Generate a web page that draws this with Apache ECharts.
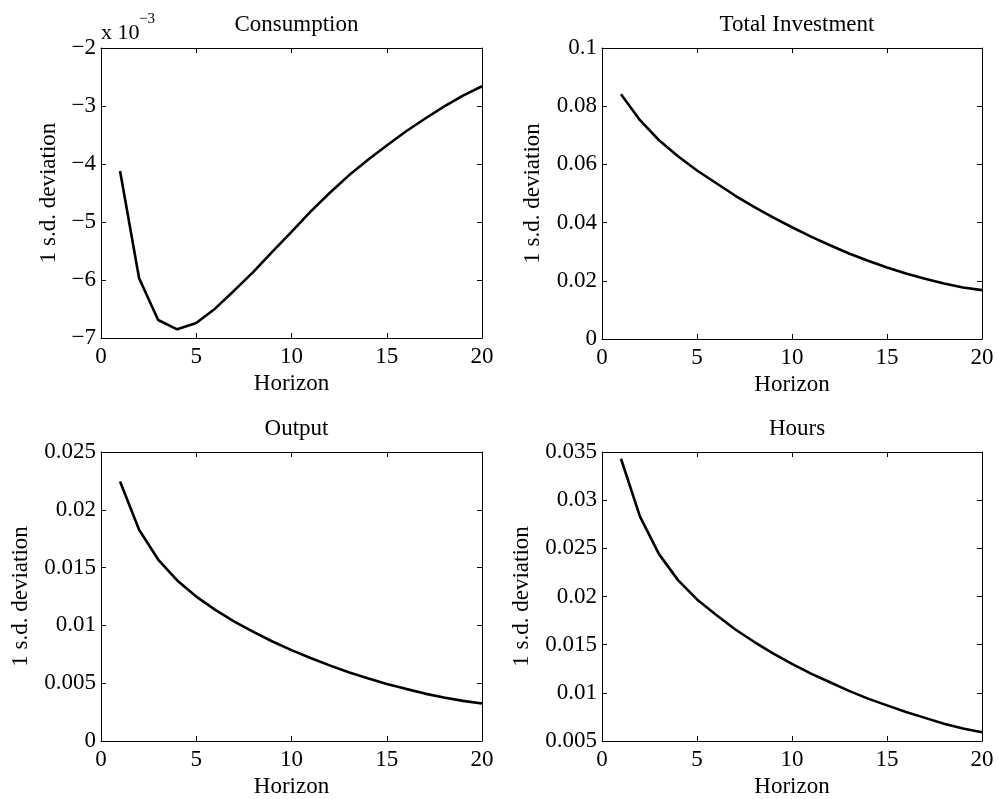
<!DOCTYPE html>
<html>
<head>
<meta charset="utf-8">
<script src="https://cdn.jsdelivr.net/npm/echarts@6/dist/echarts.min.js"></script>
<style>
  html, body { margin: 0; padding: 0; background: #fff; }
  #chartDiv { width: 998px; height: 799px; }
</style>
</head>
<body>
<div id="chartDiv"></div>
<script>
// Impulse responses, horizon 1..20
const horizon = [1, 2, 3, 4, 5, 6, 7, 8, 9, 10, 11, 12, 13, 14, 15, 16, 17, 18, 19, 20];

// Consumption, in units of 10^-3 (as shown on the axis)
const consumption = [-4.12, -5.97, -6.69, -6.85, -6.74, -6.49, -6.18, -5.86, -5.51, -5.17,
    -4.82, -4.50, -4.20, -3.93, -3.68, -3.44, -3.22, -3.01, -2.82, -2.66];

const investment = [0.0841, 0.0752, 0.0683, 0.0628, 0.0579, 0.0536, 0.0493, 0.0454, 0.0418, 0.0384,
    0.0352, 0.0322, 0.0294, 0.0269, 0.0246, 0.0225, 0.0207, 0.0191, 0.0177, 0.0168];

const output = [0.02245, 0.01828, 0.0157, 0.01389, 0.01249, 0.01134, 0.01033, 0.00944, 0.00861, 0.00786,
    0.00718, 0.00654, 0.00594, 0.00542, 0.00494, 0.00451, 0.0041, 0.00376, 0.00347, 0.00324];

const hours = [0.0343, 0.0283, 0.0244, 0.0217, 0.0197, 0.0181, 0.0166, 0.0153, 0.0141, 0.0130,
    0.0120, 0.0111, 0.0102, 0.0094, 0.0087, 0.0080, 0.0074, 0.0068, 0.0063, 0.0059];

const FONT = '"Liberation Serif", "Times New Roman", serif';
const FS = 23;

const panels = [
    { title: 'Consumption', data: consumption, yMin: -7, yMax: -2, yStep: 1,
      box: { left: 101, top: 48, width: 381, height: 290 }, nameGap: 41 },
    { title: 'Total Investment', data: investment, yMin: 0, yMax: 0.1, yStep: 0.02,
      box: { left: 602, top: 48, width: 380, height: 291 }, nameGap: 58 },
    { title: 'Output', data: output, yMin: 0, yMax: 0.025, yStep: 0.005,
      box: { left: 101, top: 452, width: 381, height: 290 }, nameGap: 69 },
    { title: 'Hours', data: hours, yMin: 0.005, yMax: 0.035, yStep: 0.005,
      box: { left: 602, top: 452, width: 380, height: 290 }, nameGap: 69 }
];

function fmtTick(v) {
    const n = parseFloat(v.toFixed(4));
    return n < 0 ? '\u2212' + Math.abs(n) : String(n);
}

function renderChart() {
    const chartDom = document.getElementById('chartDiv');
    const myChart = echarts.init(chartDom, null, { renderer: 'canvas' });

    const grid = [], xAxis = [], yAxis = [], series = [], title = [];
    const lineStyle = { color: '#000', width: 1 };
    const tick = { show: true, inside: true, length: 5, lineStyle: lineStyle };

    panels.forEach((p, i) => {
        grid.push(Object.assign({ show: false }, p.box));
        title.push({
            text: p.title,
            left: p.box.left + p.box.width / 2,
            top: p.box.top - 40,
            textAlign: 'center',
            textStyle: { fontFamily: FONT, fontSize: FS, fontWeight: 'normal', color: '#000' }
        });

        // bottom axis with labels
        xAxis.push({
            type: 'value', gridIndex: i, min: 0, max: 20, interval: 5, position: 'bottom',
            name: 'Horizon', nameLocation: 'middle', nameGap: 34,
            nameTextStyle: { fontFamily: FONT, fontSize: FS, color: '#000' },
            axisLine: { show: true, onZero: false, lineStyle: lineStyle },
            axisTick: tick,
            axisLabel: { fontFamily: FONT, fontSize: FS, color: '#000', margin: 7 },
            splitLine: { show: false }
        });
        // top axis, ticks only
        xAxis.push({
            type: 'value', gridIndex: i, min: 0, max: 20, interval: 5, position: 'top',
            axisLine: { show: true, onZero: false, lineStyle: lineStyle },
            axisTick: tick, axisLabel: { show: false }, splitLine: { show: false }
        });
        yAxis.push({
            type: 'value', gridIndex: i, min: p.yMin, max: p.yMax, interval: p.yStep, position: 'left',
            name: '1 s.d. deviation', nameLocation: 'middle', nameGap: p.nameGap,
            nameTextStyle: { fontFamily: FONT, fontSize: FS, color: '#000' },
            axisLine: { show: true, onZero: false, lineStyle: lineStyle },
            axisTick: tick,
            axisLabel: { fontFamily: FONT, fontSize: FS, color: '#000', margin: 5, formatter: fmtTick },
            splitLine: { show: false }
        });
        yAxis.push({
            type: 'value', gridIndex: i, min: p.yMin, max: p.yMax, interval: p.yStep, position: 'right',
            axisLine: { show: true, onZero: false, lineStyle: lineStyle },
            axisTick: tick, axisLabel: { show: false }, splitLine: { show: false }
        });

        series.push({
            type: 'line',
            xAxisIndex: i * 2,
            yAxisIndex: i * 2,
            data: horizon.map((h, k) => [h, p.data[k]]),
            symbol: 'none',
            silent: true,
            lineStyle: { color: '#000', width: 2.6 }
        });
    });

    const option = {
        backgroundColor: '#fff',
        animation: false,
        title: title,
        grid: grid,
        xAxis: xAxis,
        yAxis: yAxis,
        series: series,
        graphic: [
            {
                // axis exponent label of the Consumption panel
                type: 'text',
                left: 101,
                top: 22,
                style: { text: 'x 10', fontFamily: FONT, fontSize: 22, fill: '#000' }
            },
            {
                type: 'text',
                left: 139,
                top: 12,
                style: { text: '\u22123', fontFamily: FONT, fontSize: 15, fill: '#000' }
            }
        ]
    };

    myChart.setOption(option);
}

renderChart();
</script>
</body>
</html>
